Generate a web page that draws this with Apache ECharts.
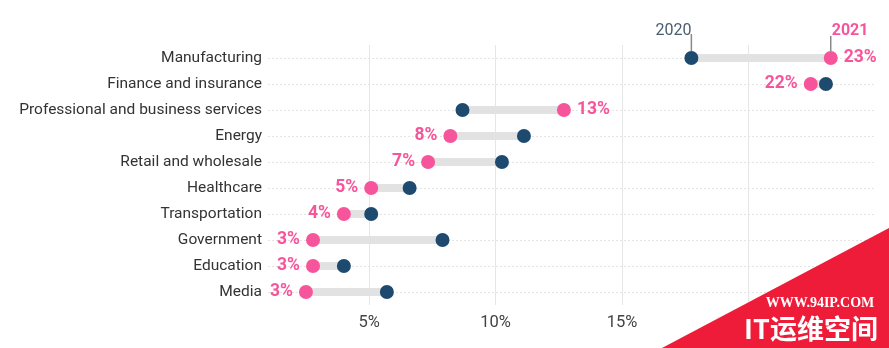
<!DOCTYPE html>
<html><head><meta charset="utf-8">
<script src="https://cdn.jsdelivr.net/npm/echarts@6/dist/echarts.min.js"></script>
<style>html,body{margin:0;padding:0;background:#fff}#c{width:889px;height:348px}</style>
</head><body><div id="c"></div>
<script>
const categories = ['Manufacturing','Finance and insurance','Professional and business services','Energy','Retail and wholesale','Healthcare','Transportation','Government','Education','Media'];
const values2020 = [17.74, 23.06, 8.69, 11.12, 10.25, 6.6, 5.08, 7.9, 4.0, 5.7];
const values2021 = [23.25, 22.46, 12.7, 8.21, 7.33, 5.08, 4.0, 2.78, 2.78, 2.5];
const xTicks = [5, 10, 15, 20];
const seriesNames = ['2020', '2021'];

const NAVY = '#1f4a6f', PINK = '#f7559b', FONT = 'Roboto';
const rowIdx = categories.map((c, i) => i);
const chart = echarts.init(document.getElementById('c'), null, {renderer: 'canvas'});
chart.setOption({
  animation: false,
  textStyle: {fontFamily: FONT},
  grid: {left: 268, right: 14, top: 45, height: 260},
  xAxis: {
    type: 'value', min: 1, max: 25,
    axisLine: {show: false},
    axisTick: {show: false, customValues: xTicks},
    axisLabel: {customValues: xTicks, formatter: '{value}%', color: '#444', fontSize: 16.5, margin: 9, fontFamily: FONT},
    splitLine: {show: true, lineStyle: {color: '#e6e6e6', width: 1}}
  },
  yAxis: {
    type: 'value', inverse: true, min: -0.5, max: 9.5,
    axisLine: {show: false},
    axisTick: {show: false, customValues: rowIdx},
    axisLabel: {customValues: rowIdx, formatter: v => categories[Math.round(v)], color: '#333', fontSize: 15.5, margin: 6, fontFamily: FONT},
    splitLine: {show: true, lineStyle: {color: '#e4e4e4', type: [2, 2], width: 1}}
  },
  series: [
    {
      type: 'custom',
      data: rowIdx.map(i => [i, values2020[i], values2021[i]]),
      encode: {x: [1, 2], y: 0},
      renderItem(params, api) {
        const y = api.value(0);
        const p1 = api.coord([api.value(1), y]);
        const p2 = api.coord([api.value(2), y]);
        return {type: 'line', shape: {x1: p1[0], y1: p1[1], x2: p2[0], y2: p2[1]}, style: {stroke: '#e2e2e2', lineWidth: 8}};
      },
      z: 1
    },
    {
      name: seriesNames[0], type: 'scatter', symbolSize: 14,
      itemStyle: {color: NAVY, opacity: 1},
      data: rowIdx.map(i => [values2020[i], i]), z: 3
    },
    {
      name: seriesNames[1], type: 'scatter', symbolSize: 14,
      itemStyle: {color: PINK, opacity: 1},
      data: rowIdx.map(i => ({
        value: [values2021[i], i],
        label: {show: true, position: values2021[i] > values2020[i] ? 'right' : 'left', distance: 6}
      })),
      label: {formatter: p => Math.round(p.value[0]) + '%', color: PINK, fontWeight: 'bold', fontSize: 17.5, fontFamily: FONT},
      z: 4
    }
  ]
});

const a = chart.convertToPixel({gridIndex: 0}, [values2020[0], 0]);
const b = chart.convertToPixel({gridIndex: 0}, [values2021[0], 0]);
chart.setOption({
  graphic: [
    {type: 'line', shape: {x1: a[0], y1: a[1] - 24, x2: a[0], y2: a[1] - 7}, style: {stroke: '#888', lineWidth: 1.5}},
    {type: 'line', shape: {x1: b[0], y1: b[1] - 22, x2: b[0], y2: b[1] - 7}, style: {stroke: '#888', lineWidth: 1.5}},
    {type: 'text', x: a[0], y: a[1] - 19, style: {text: seriesNames[0], fill: '#4b5d70', font: '16px Roboto', textAlign: 'right', textVerticalAlign: 'bottom'}},
    {type: 'text', x: b[0] + 1, y: b[1] - 19, style: {text: seriesNames[1], fill: PINK, font: 'bold 16px Roboto', textAlign: 'left', textVerticalAlign: 'bottom'}},
    {type: 'polygon', shape: {points: [[662, 348], [889, 228], [889, 348]]}, style: {fill: '#ee1c39'}, z: 100},
    {type: 'text', x: 820, y: 303, style: {text: 'WWW.94IP.COM', fill: '#fff', font: 'bold 14px "Liberation Serif"', textAlign: 'center', textVerticalAlign: 'middle'}, z: 101},
    {type: 'text', x: 811, y: 329, style: {text: 'IT运维空间', fill: '#fff', font: 'bold 27px "Noto Sans CJK SC"', textAlign: 'center', textVerticalAlign: 'middle'}, z: 101}
  ]
});
</script></body></html>
